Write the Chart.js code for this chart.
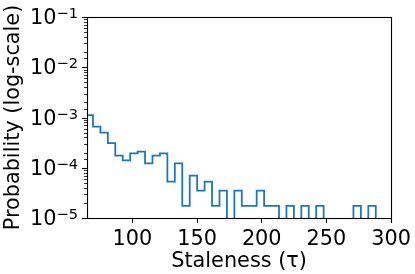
<!DOCTYPE html>
<html>
<head>
<meta charset="utf-8">
<script src="https://cdn.jsdelivr.net/npm/chart.js@4.4.0/dist/chart.umd.min.js"></script>
<style>
  html, body { margin: 0; padding: 0; background: #fff; }
  #wrap { width: 415px; height: 274px; }
</style>
</head>
<body>
<div id="wrap"><canvas id="staleChart" width="415" height="274"></canvas></div>
<script>
  // histogram bin edges (tau) and probability per bin
  const binEdges = [63.85, 69.6, 75.35, 81.1, 86.85, 92.6, 98.35, 104.1, 109.85, 115.6,
    121.35, 127.1, 132.85, 138.6, 144.35, 150.1, 155.85, 161.6, 167.35, 173.1,
    178.85, 184.6, 190.35, 196.1, 201.85, 207.6, 213.35, 219.1, 224.85, 230.6,
    236.35, 242.1, 247.85, 253.6, 259.35, 265.1, 270.85, 276.6, 282.35, 288.1];
  const probabilities = [1.12e-3, 6.6e-4, 5.0e-4, 3.1e-4, 1.75e-4, 1.4e-4, 1.93e-4, 2.1e-4, 1.22e-4, 1.75e-4,
    1.93e-4, 5.3e-5, 1.22e-4, 1.75e-5, 7.0e-5, 3.5e-5, 5.3e-5, 1.75e-5, 3.5e-5, 0,
    3.5e-5, 1.75e-5, 1.75e-5, 3.5e-5, 1.75e-5, 1.75e-5, 0, 1.75e-5, 0, 1.75e-5,
    0, 1.75e-5, 0, 0, 0, 0, 1.75e-5, 0, 1.75e-5];
  const xTicks = [100, 150, 200, 250, 300];
  const yTicks = [1e-5, 1e-4, 1e-3, 1e-2, 1e-1];

  const FONT = 'DejaVu Sans';
  const FLOOR = 1e-7; // empty bins fall below the axis, like matplotlib

  const points = binEdges.slice(0, -1).map((x, i) => ({ x: x, y: probabilities[i] > 0 ? probabilities[i] : FLOOR }));
  points.push({ x: binEdges[binEdges.length - 1], y: FLOOR });

  // frame, y tick marks (major + minor) and 10^n labels
  const axesPlugin = {
    id: 'axesPlugin',
    afterDraw(chart) {
      const ctx = chart.ctx;
      const a = chart.chartArea;
      const ys = chart.scales.y;
      ctx.save();
      ctx.strokeStyle = '#000';
      ctx.fillStyle = '#000';
      ys.ticks.forEach(t => {
        const py = Math.round(ys.getPixelForValue(t.value)) + 0.5;
        const e = Math.log10(t.value);
        const major = Math.abs(e - Math.round(e)) < 1e-6;
        ctx.lineWidth = major ? 1.1 : 0.8;
        ctx.beginPath();
        ctx.moveTo(a.left, py);
        ctx.lineTo(a.left - (major ? 5 : 3), py);
        ctx.stroke();
      });
      yTicks.forEach(v => {
        const py = ys.getPixelForValue(v);
        const exp = Math.round(Math.log10(v));
        const sup = (exp < 0 ? '\u2212' : '') + Math.abs(exp);
        ctx.textAlign = 'right';
        ctx.textBaseline = 'alphabetic';
        ctx.font = '14.6px "' + FONT + '"';
        const sw = ctx.measureText(sup).width;
        const rightX = a.left - 9;
        ctx.fillText(sup, rightX, py + 1);
        ctx.font = '20.8px "' + FONT + '"';
        ctx.fillText('10', rightX - sw, py + 7);
      });
      ctx.lineWidth = 1.1;
      ctx.strokeRect(Math.round(a.left) + 0.5, Math.round(a.top) + 0.5,
        Math.round(a.right - a.left), Math.round(a.bottom - a.top));
      ctx.restore();
    }
  };

  new Chart(document.getElementById('staleChart'), {
    type: 'line',
    data: {
      datasets: [{
        data: points,
        stepped: true,
        borderColor: '#1f77b4',
        borderWidth: 1.8,
        pointRadius: 0,
        fill: false,
        clip: 0
      }]
    },
    options: {
      responsive: false,
      animation: false,
      layout: { padding: { left: 0, right: 21, top: 17, bottom: 0 } },
      plugins: { legend: { display: false }, tooltip: { enabled: false } },
      scales: {
        x: {
          type: 'linear',
          min: 65,
          max: 300,
          afterBuildTicks: s => { s.ticks = xTicks.map(v => ({ value: v })); },
          afterFit: s => { s.height = 56; },
          grid: { drawOnChartArea: false, tickLength: 5, tickWidth: 1.1, tickColor: '#000' },
          border: { display: false },
          ticks: { color: '#000', padding: 4, maxRotation: 0, font: { family: FONT, size: 20.8 } },
          title: { display: true, text: 'Staleness (\u03c4)', color: '#000', padding: 0, font: { family: FONT, size: 20.8 } }
        },
        y: {
          type: 'logarithmic',
          min: 1e-5,
          max: 1e-1,
          afterFit: s => { s.width = 87; },
          grid: { drawOnChartArea: false, drawTicks: false },
          border: { display: false },
          ticks: { display: false },
          title: { display: true, text: 'Probability (log-scale)', color: '#000', padding: 1.5, font: { family: FONT, size: 20.8 } }
        }
      }
    },
    plugins: [axesPlugin]
  });
</script>
</body>
</html>
